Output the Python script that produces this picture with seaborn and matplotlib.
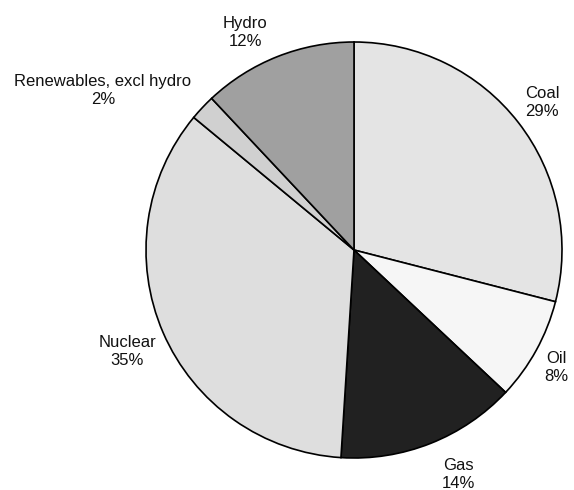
import matplotlib
matplotlib.use("Agg")
import matplotlib.pyplot as plt
import seaborn as sns

# Electricity generation share by source
sources = ["Coal", "Oil", "Gas", "Nuclear", "Renewables, excl hydro", "Hydro"]
shares = [29, 8, 14, 35, 2, 12]

slice_colors = ["#e4e4e4", "#f6f6f6", "#212121", "#dedede", "#d0d0d0", "#a0a0a0"]

# Label anchor points in pie-radius units
label_pos = [(0.904, 0.707), (0.971, -0.5625), (0.50, -1.077),
             (-1.091, -0.486), (-1.207, 0.769), (-0.524, 1.048)]

sns.set_theme(style="white")
plt.rcParams["font.family"] = ["Liberation Sans", "DejaVu Sans"]

fig = plt.figure(figsize=(5.74, 4.90), dpi=100)
ax = fig.add_axes([0, 0, 1, 1])

ax.pie(shares, colors=slice_colors, startangle=90, counterclock=False,
       radius=1.0, center=(0, 0), frame=True,
       wedgeprops=dict(edgecolor="black", linewidth=1.2))

for name, val, (lx, ly) in zip(sources, shares, label_pos):
    ax.text(lx, ly, f"{name}\n{val}%", ha="center", va="center",
            fontsize=12, color="#111111", linespacing=1.25)

ax.set_xlim(-354 / 208, (574 - 354) / 208)
ax.set_ylim(-240 / 208, 250 / 208)
ax.set_aspect("auto")
ax.axis("off")

fig.savefig("out.png", dpi=100, facecolor="white")
